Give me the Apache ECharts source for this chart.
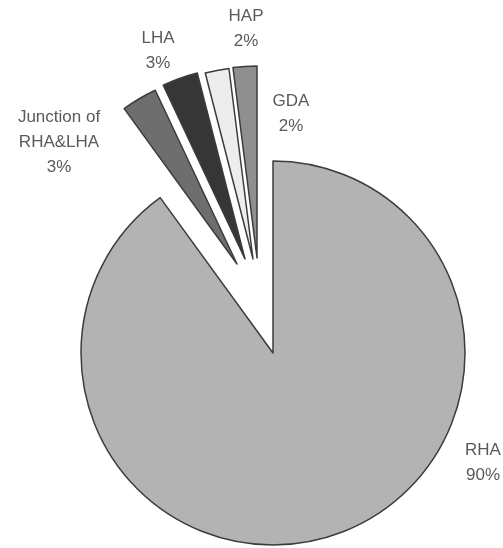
<!DOCTYPE html>
<html>
<head>
<meta charset="utf-8">
<script src="https://cdn.jsdelivr.net/npm/echarts@6/dist/echarts.min.js"></script>
<style>html,body{margin:0;padding:0;background:#fff;}#c{width:503px;height:548px;}</style>
</head>
<body>
<div id="c"></div>
<script>
const categories = ['RHA', 'Junction of\nRHA&LHA', 'LHA', 'HAP', 'GDA'];
const values = [90, 3, 3, 2, 2];

// styling / placement (not data)
const colors = ['#b3b3b3', '#6e6e6e', '#363636', '#ededed', '#8f8f8f'];
const centers = [[273, 353], [237, 264], [245, 259], [253, 259], [257, 258]];
const labelPos = [[483, 463], [59, 142], [158, 51], [246, 29], [291, 114]];

const chart = echarts.init(document.getElementById('c'));
const series = categories.map((name, i) => ({
  type: 'pie',
  center: centers[i],
  radius: [0, 192],
  startAngle: 90,
  clockwise: true,
  silent: true,
  animation: false,
  avoidLabelOverlap: false,
  labelLine: { show: false },
  label: {
    formatter: '{b}\n{c}%',
    fontSize: 17,
    lineHeight: 25,
    color: '#5a5a5a',
    fontFamily: 'Liberation Sans, Arial, sans-serif'
  },
  labelLayout: () => ({ x: labelPos[i][0], y: labelPos[i][1], align: 'center', verticalAlign: 'middle' }),
  data: categories.map((n, j) => ({
    name: n,
    value: values[j],
    itemStyle: j === i
      ? { color: colors[i], borderColor: '#3c3c3c', borderWidth: 1.5 }
      : { color: 'rgba(0,0,0,0)', borderWidth: 0 },
    label: { show: j === i }
  }))
}));
chart.setOption({ backgroundColor: '#fff', series });
</script>
</body>
</html>
